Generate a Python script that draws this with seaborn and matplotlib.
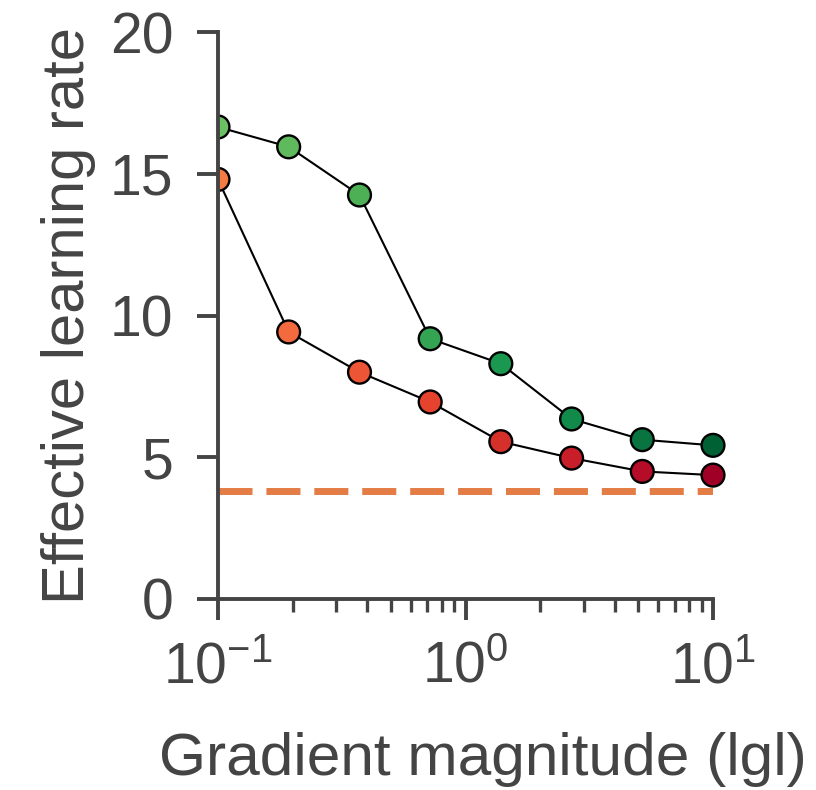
import numpy as np
import pandas as pd
import matplotlib
matplotlib.use("Agg")
import matplotlib.pyplot as plt
from matplotlib.transforms import Bbox, TransformedBbox
import seaborn as sns

# Gradient magnitudes (log-spaced from 0.1 to 10)
grad_mag = [0.1, 0.193, 0.373, 0.720, 1.389, 2.683, 5.179, 10.0]

# Effective learning rate for the two optimiser settings
lr_green = [16.65, 15.95, 14.25, 9.18, 8.30, 6.35, 5.62, 5.42]
lr_red = [14.80, 9.42, 8.00, 6.95, 5.55, 4.97, 4.50, 4.37]

# Baseline learning rate (dashed reference)
baseline_lr = 3.8

# Per-point fill colours (light -> dark with increasing gradient)
green_colors = ["#6cc064", "#5fba5d", "#4db055", "#35a452", "#1a9850", "#118a4a", "#0a7440", "#006134"]
red_colors = ["#f47b43", "#f26a3e", "#ec5535", "#e5432d", "#d6302a", "#c81e29", "#b50c28", "#a00026"]
baseline_color = "#e37c45"

sns.set_theme(style="ticks")
text_color = "#444444"
plt.rcParams["font.family"] = ["Liberation Sans", "DejaVu Sans"]
plt.rcParams["mathtext.fontset"] = "custom"
plt.rcParams["mathtext.rm"] = "Liberation Sans"
plt.rcParams["mathtext.it"] = "Liberation Sans:italic"
plt.rcParams["text.color"] = text_color
plt.rcParams["axes.labelcolor"] = text_color
plt.rcParams["xtick.color"] = text_color
plt.rcParams["ytick.color"] = text_color

rows = []
for name, vals, cols in (("green", lr_green, green_colors), ("red", lr_red, red_colors)):
    for i, (x, y, c) in enumerate(zip(grad_mag, vals, cols)):
        rows.append({"x": x, "y": y, "series": name, "pt": f"{name}{i}", "color": c})
df = pd.DataFrame(rows)
point_palette = dict(zip(df["pt"], df["color"]))

fig = plt.figure(figsize=(8.16, 7.9), dpi=100)
ax = fig.add_axes([218 / 816, 191 / 790, (713 - 218) / 816, (599 - 32) / 790])

ax.set_xscale("log")

# Baseline dashed line
base_df = pd.DataFrame({"x": [grad_mag[0], grad_mag[-1]], "y": [baseline_lr, baseline_lr]})
sns.lineplot(data=base_df, x="x", y="y", ax=ax, color=baseline_color, linewidth=5.0,
             dashes=False, zorder=1)
ax.lines[-1].set_dashes([4.9, 2.0])

# Connecting lines
sns.lineplot(data=df, x="x", y="y", units="series", estimator=None, ax=ax,
             color="black", linewidth=1.5, zorder=2, legend=False)

# Coloured markers
sns.scatterplot(data=df, x="x", y="y", hue="pt", palette=point_palette, ax=ax,
                s=270, edgecolor="black", linewidth=1.7, zorder=3, legend=False)

# Markers are cut off only at the left spine
left_clip = TransformedBbox(Bbox([[0, -1], [2, 2]]), ax.transAxes)
for coll in ax.collections:
    coll.set_clip_path(None)
    coll.set_clip_box(left_clip)

ax.set_xlim(0.1, 10)
ax.set_ylim(0, 20)
ax.set_yticks([0, 5, 10, 15, 20])
ax.set_xticks([0.1, 1, 10])

sns.despine(ax=ax)
for side in ("left", "bottom"):
    ax.spines[side].set_color(text_color)
    ax.spines[side].set_linewidth(2.8)
    ax.spines[side].set_zorder(4)

ax.tick_params(axis="both", which="major", length=15, width=2.8, labelsize=41)
ax.tick_params(axis="y", which="major", pad=17)
ax.tick_params(axis="x", which="major", pad=15)
ax.tick_params(axis="x", which="minor", length=9, width=2.4, color=text_color)

ax.set_xlabel("Gradient magnitude (lgl)", fontsize=43.5, labelpad=28)
ax.xaxis.set_label_coords(0.535, -0.235)
ax.set_ylabel("Effective learning rate", fontsize=43, labelpad=10)

fig.savefig("out.png", dpi=100)
